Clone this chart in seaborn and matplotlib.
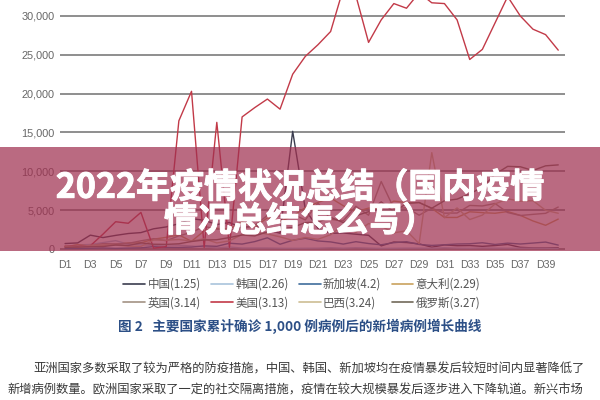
import pandas as pd
import seaborn as sns
import matplotlib.pyplot as plt
import matplotlib.patheffects as pe
from matplotlib.patches import Rectangle
from matplotlib.lines import Line2D

# Days since each country passed 1,000 confirmed cases
days = list(range(1, 41))
tick_days = list(range(1, 40, 2))
tick_labels = [f"D{d}" for d in tick_days]
y_ticks = [0, 5000, 10000, 15000, 20000, 25000, 30000]
y_tick_labels = ["0", "5,000", "10,000", "15,000", "20,000", "25,000", "30,000"]

countries = ["中国(1.25)", "韩国(2.26)", "新加坡(4.2)", "意大利(2.29)",
             "英国(3.14)", "美国(3.13)", "巴西(3.24)", "俄罗斯(3.27)"]
colors = ["#3b3d4f", "#a9c3db", "#3f6d9c", "#c9a25e",
          "#a39284", "#c23a48", "#cdbd93", "#726a5a"]

china = [690, 770, 1770, 1460, 1740, 1980, 2100, 2590, 2830, 3240,
         3890, 3690, 3140, 3400, 2660, 3060, 2480, 2020, 15150, 5090,
         2640, 2010, 2050, 1890, 1750, 390, 890, 820, 650, 220,
         510, 410, 430, 330, 430, 570, 200, 130, 120, 140]
korea = [280, 510, 570, 810, 1060, 600, 520, 440, 520, 480,
         370, 250, 130, 240, 110, 110, 110, 80, 70, 80,
         90, 150, 90, 150, 100, 60, 80, 100, 100, 90,
         150, 100, 80, 120, 100, 90, 90, 90, 80, 50]
singapore = [70, 70, 80, 120, 70, 110, 140, 290, 200, 190,
             230, 390, 330, 730, 620, 940, 1430, 600, 1110, 1370,
             1020, 900, 620, 930, 690, 530, 800, 930, 570, 450,
             530, 630, 660, 790, 570, 740, 630, 750, 880, 490]
italy = [240, 560, 350, 470, 590, 770, 780, 1250, 1490, 1800,
         980, 2310, 2650, 2550, 3500, 2820, 4000, 3530, 4210, 5320,
         5990, 6560, 5560, 4790, 5250, 5210, 6150, 5960, 5970, 5220,
         4050, 4050, 4780, 4670, 4590, 4810, 4320, 3600, 3040, 3840]
uk = [340, 340, 410, 680, 640, 710, 1040, 1320, 1050, 1680,
      2130, 2890, 2550, 2430, 2620, 3010, 4320, 4240, 4450, 3740,
      5900, 3800, 3630, 5490, 4340, 8680, 5230, 5290, 4340, 5250,
      4600, 4620, 5600, 5530, 5850, 4680, 4300, 4450, 4580, 5390]
usa = [350, 300, 400, 1900, 3500, 3300, 4700, 100, 300, 16500,
       20300, 200, 16300, 200, 17000, 18200, 19300, 18000, 22500, 24800,
       26300, 28000, 33500, 32600, 26600, 29500, 31600, 31000, 33000, 31700,
       31600, 29500, 24400, 25700, 29100, 32500, 30000, 28300, 27600, 25600]
brazil = [350, 230, 480, 500, 490, 350, 320, 1140, 1120, 1210,
          1010, 1300, 770, 1030, 1870, 2140, 1920, 1550, 1090, 1470,
          1240, 1830, 3060, 2110, 3260, 2920, 2060, 2340, 680, 12400,
          4010, 5280, 3780, 4350, 5790, 6450, 6140, 6210, 4970, 4590]
russia = [200, 230, 270, 300, 500, 440, 770, 600, 580, 660,
          950, 1150, 1180, 1460, 1790, 1670, 2190, 2560, 2770, 3390,
          3450, 4070, 3390, 4270, 4790, 6060, 4770, 5850, 5970, 5240,
          6200, 6410, 7100, 7930, 9620, 10630, 10580, 10100, 10700, 10820]

series = [china, korea, singapore, italy, uk, usa, brazil, russia]
frames = [pd.DataFrame({"day": days, "cases": vals, "country": name})
          for name, vals in zip(countries, series)]
df = pd.concat(frames, ignore_index=True)
palette = dict(zip(countries, colors))

sns.set_theme(style="white")
plt.rcParams["font.family"] = ["Noto Sans CJK SC", "DejaVu Sans"]

fig = plt.figure(figsize=(6, 4), dpi=100)
ax = fig.add_axes([0.1, 0.37, 0.842, 0.63])

sns.lineplot(data=df, x="day", y="cases", hue="country", hue_order=countries,
             palette=palette, linewidth=1.0, legend=False, ax=ax)

ax.set_xlim(0.6, 40.55)
ax.set_ylim(-400, 32060)
ax.set_yticks(y_ticks)
ax.set_yticklabels(y_tick_labels, family="Liberation Sans", fontsize=7.8, color="#666666")
ax.set_xticks(tick_days)
ax.set_xticklabels(tick_labels, family="Liberation Sans", fontsize=7.6, color="#666666")
ax.tick_params(axis="both", length=0)
ax.tick_params(axis="x", pad=6)
ax.tick_params(axis="y", pad=4)
ax.set_xlabel("")
ax.set_ylabel("")
for s in ax.spines.values():
    s.set_visible(False)
for yv in y_ticks:
    ax.axhline(yv, color="#7b7b7b", linewidth=1.2, zorder=0.5)

# legend fills column by column, so reorder to read row by row (4 per row)
order = [0, 4, 1, 5, 2, 6, 3, 7]
handles = [Line2D([0], [0], color=colors[i], linewidth=1.2) for i in order]
labels = [countries[i] for i in order]
fig.legend(handles, labels, loc="center", bbox_to_anchor=(0.503, 0.266),
           ncol=4, frameon=False, fontsize=8.3, handlelength=1.9,
           handletextpad=0.2, columnspacing=0.9, labelspacing=0.45,
           labelcolor="#555555")

fig.text(0.5, 0.183, "图 2   主要国家累计确诊 1,000 例病例后的新增病例增长曲线",
         ha="center", va="center", fontsize=9.8, fontweight="bold", color="#2c4f86")

fig.text(0.055, 0.078, "亚洲国家多数采取了较为严格的防疫措施，中国、韩国、新加坡均在疫情暴发后较短时间内显著降低了",
         ha="left", va="center", fontsize=8.85, color="#3a3a3a")
fig.text(0.012, 0.025, "新增病例数量。欧洲国家采取了一定的社交隔离措施，疫情在较大规模暴发后逐步进入下降轨道。新兴市场",
         ha="left", va="center", fontsize=8.85, color="#3a3a3a")

# translucent title banner laid over the chart
fig.add_artist(Rectangle((0, 0.3725), 1, 0.26, transform=fig.transFigure,
                         facecolor="#a03050", alpha=0.72, edgecolor="none", zorder=10))
fig.text(0.5, 0.49, "2022年疫情状况总结（国内疫情\n情况总结怎么写）",
         ha="center", va="center", multialignment="center", linespacing=0.95,
         fontsize=24.5, fontweight="bold", color="white", zorder=11,
         path_effects=[pe.withStroke(linewidth=0.7, foreground="white")])

fig.savefig("out.png", dpi=100)
